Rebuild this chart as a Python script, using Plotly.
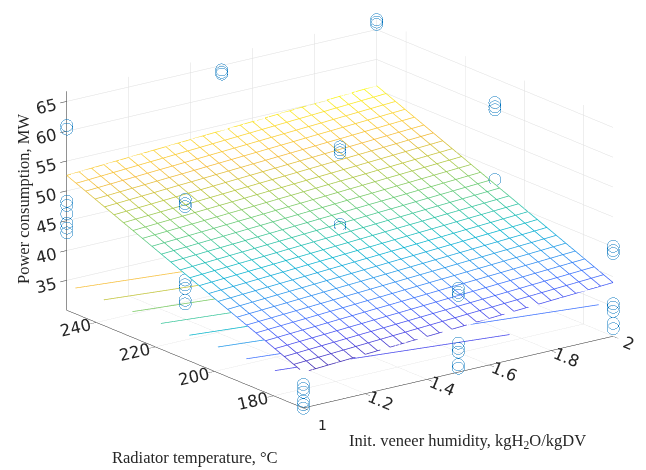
import numpy as np
import plotly.graph_objects as go

humidity_levels = [1.0, 1.5, 2.0]
temperature_levels = [170, 210, 250]
power_obs = {
    (1.0, 250): [61.0, 60.4, 48.3, 47.6, 46.2, 44.6, 43.8, 43.0],
    (1.5, 250): [64.3, 63.9, 63.6],
    (2.0, 250): [66.7, 66.3, 65.9],
    (1.0, 210): [56.8, 56.1, 55.6, 43.3, 42.5, 41.9, 39.9, 39.3],
    (1.5, 210): [59.6, 59.1, 58.6, 46.6, 46.1],
    (2.0, 210): [61.0, 60.3, 59.8, 48.1],
    (1.0, 170): [43.7, 43.1, 42.6, 34.0, 33.3, 32.7, 31.2, 30.6, 30.0],
    (1.5, 170): [44.1, 43.4, 42.9, 34.9, 34.0, 33.4, 31.3, 30.7],
    (2.0, 170): [45.1, 44.4, 43.9, 35.5, 34.9, 34.2, 32.2, 31.3],
}

# fitted plane (values at corners)
fit_h1_t170 = 36.0
fit_slope_h = 3.0      # MW per unit humidity
fit_slope_t = 0.2075   # MW per degC
contour_levels = [36, 38, 40, 42, 44, 46, 48, 50, 52, 54]
contour_plane_z = 34.3

x_ticks = [1, 1.2, 1.4, 1.6, 1.8, 2]
x_ticktext = ['1', '1.2', '1.4', '1.6', '1.8', '2']
y_ticks = [180, 200, 220, 240]
z_ticks = [35, 40, 45, 50, 55, 60, 65]

x_range = [1, 2]
y_range = [170, 250]
z_range = [30, 66.7]

parula = [
    [0.0, '#3e26a8'], [0.1, '#4746eb'], [0.2, '#3e6ffe'], [0.3, '#2797eb'],
    [0.4, '#08b5d0'], [0.5, '#31c49f'], [0.6, '#71cb6a'], [0.7, '#b9c63b'],
    [0.8, '#f5ba3a'], [0.9, '#fbd52f'], [1.0, '#f9fb15'],
]

def fit(h, t):
    return fit_h1_t170 + fit_slope_h * (h - 1.0) + fit_slope_t * (t - 170.0)

n = 26
hg = np.linspace(x_range[0], x_range[1], n)
tg = np.linspace(y_range[0], y_range[1], n)
H, T = np.meshgrid(hg, tg)
Z = fit(H, T)
cmin, cmax = float(Z.min()), float(Z.max())

fig = go.Figure()

# white opaque face (hidden-line mesh)
fig.add_trace(go.Surface(
    x=hg, y=tg, z=Z - 0.12,
    colorscale=[[0, 'white'], [1, 'white']], showscale=False,
    lighting=dict(ambient=1, diffuse=0, specular=0, fresnel=0, roughness=1),
    hoverinfo='skip', opacity=1,
))

# mesh lines
for i in range(n):
    for xs, ys in ((np.full(n, hg[i]), tg), (hg, np.full(n, tg[i]))):
        zs = fit(xs, ys)
        fig.add_trace(go.Scatter3d(
            x=xs, y=ys, z=zs, mode='lines',
            line=dict(color=zs, colorscale=parula, cmin=cmin, cmax=cmax, width=1.5),
            showlegend=False, hoverinfo='skip'))

# contour lines at the floor
for L in contour_levels:
    pts = []
    for h in x_range:
        t = 170 + (L - fit_h1_t170 - fit_slope_h * (h - 1)) / fit_slope_t
        if y_range[0] <= t <= y_range[1]:
            pts.append((h, t))
    for t in y_range:
        h = 1 + (L - fit_h1_t170 - fit_slope_t * (t - 170)) / fit_slope_h
        if x_range[0] <= h <= x_range[1]:
            pts.append((h, t))
    if len(pts) >= 2:
        pts = pts[:2]
        fig.add_trace(go.Scatter3d(
            x=[p[0] for p in pts], y=[p[1] for p in pts], z=[contour_plane_z] * 2,
            mode='lines',
            line=dict(color=[L, L], colorscale=parula, cmin=cmin, cmax=cmax, width=1.5),
            showlegend=False, hoverinfo='skip'))

# observed points
px, py, pz = [], [], []
for (h, t), vals in power_obs.items():
    for v in vals:
        px.append(h); py.append(t); pz.append(v)
fig.add_trace(go.Scatter3d(
    x=px, y=py, z=pz, mode='markers',
    marker=dict(symbol='circle', size=7, color='rgba(255,255,255,0)',
                line=dict(width=1, color='#0072BD')),
    showlegend=False, hoverinfo='skip'))

axis_common = dict(
    showbackground=False, gridcolor='#dedede', gridwidth=1,
    showline=True, linecolor='#262626', linewidth=1,
    ticks='outside', tickcolor='#262626', ticklen=8,
    zeroline=False, showspikes=False,
    tickfont=dict(family='DejaVu Sans', size=14, color='#262626'),
    title=dict(text=''),
)

K = 1.80 * 430 / 470
view_dir = np.array([-0.570, -0.7615, 0.3098])
right_vec = np.array([0.8007, -0.599, 0.0])
up_vec = np.array([0.1857, 0.2480, 0.951])
ppu = 225.0
cen = (-8.5 * right_vec - 28 * up_vec) / ppu
eye = view_dir + cen

fig.update_layout(
    width=646, height=470,
    paper_bgcolor='white', plot_bgcolor='white',
    margin=dict(l=0, r=0, t=0, b=0),
    showlegend=False,
    scene=dict(
        domain=dict(x=[0, 1], y=[0, 1]),
        xaxis=dict(axis_common, range=x_range, tickvals=x_ticks, ticktext=x_ticktext),
        yaxis=dict(axis_common, range=y_range, tickvals=y_ticks),
        zaxis=dict(axis_common, range=z_range, tickvals=z_ticks),
        aspectmode='manual', aspectratio=dict(x=1 * K, y=1.02 * K, z=0.595 * K),
        camera=dict(
            projection=dict(type='orthographic'),
            eye=dict(x=eye[0], y=eye[1], z=eye[2]),
            up=dict(x=0, y=0, z=1), center=dict(x=cen[0], y=cen[1], z=cen[2]),
        ),
    ),
)

labels = [
    ('Power consumption, MW', 15, 191, -90),
    ('Radiator temperature, °C', 187, 449, 0),
    ('Init. veneer humidity, kgH<sub>2</sub>O/kgDV', 459, 433, 0),
]
for text, xp, yp, ang in labels:
    fig.add_annotation(text=text, x=xp / 646, y=1 - yp / 470, xref='paper', yref='paper',
                       xanchor='center', yanchor='middle', showarrow=False, textangle=ang,
                       font=dict(family='Liberation Serif', size=16.5, color='#262626'))

# first humidity tick label (the 3D scene drops the label at the corner)
fig.add_annotation(text=x_ticktext[0], x=314 / 646, y=1 - 417 / 470, xref='paper', yref='paper',
                   xanchor='center', yanchor='middle', showarrow=False,
                   font=dict(family='DejaVu Sans', size=14, color='#262626'))

fig.write_html('out.html')
